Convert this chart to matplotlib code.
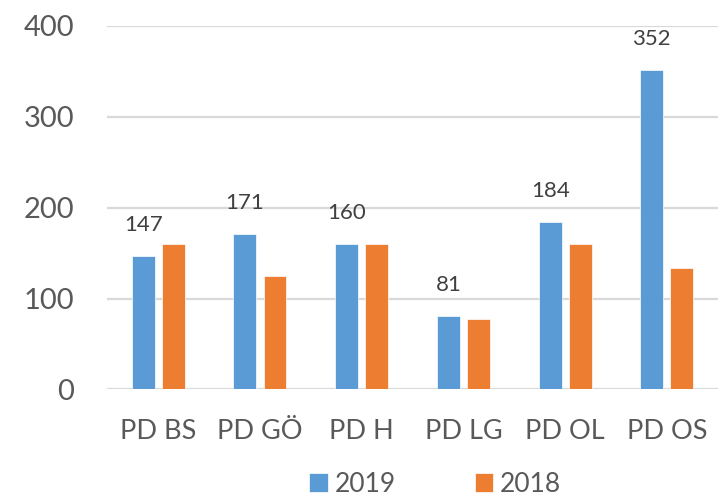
import matplotlib
matplotlib.use("Agg")
import matplotlib.pyplot as plt
import numpy as np

categories = ["PD BS", "PD GÖ", "PD H", "PD LG", "PD OL", "PD OS"]
values_2019 = [147, 171, 160, 81, 184, 352]
values_2018 = [160, 125, 160, 77, 160, 134]
yticks = [0, 100, 200, 300, 400]

blue = "#5B9BD5"
orange = "#ED7D31"
grey_text = "#595959"

plt.rcParams["font.family"] = ["Lato", "DejaVu Sans"]

fig = plt.figure(figsize=(7.25, 4.98), dpi=100)
ax = fig.add_axes([0.148, 0.218, 0.842, 0.730])

x = np.arange(len(categories))
w = 0.225
off = 0.148
b19 = ax.bar(x - off, values_2019, w, color=blue, edgecolor="white", linewidth=0.5, label="2019", zorder=3)
b18 = ax.bar(x + off, values_2018, w, color=orange, edgecolor="white", linewidth=0.5, label="2018", zorder=3)

ax.bar_label(b19, labels=[str(v) for v in values_2019], padding=15,
             fontsize=16, color="#404040")

ax.set_xlim(-0.5, len(categories) - 0.5)
ax.set_ylim(0, 400)
ax.set_yticks(yticks)
ax.set_xticks(x)
ax.set_xticklabels(categories)
ax.grid(axis="y", color="#D9D9D9", linewidth=1.6, zorder=0)
ax.tick_params(axis="y", length=0, pad=24, labelsize=21, labelcolor=grey_text)
ax.tick_params(axis="x", length=0, pad=21, labelsize=19.5, labelcolor=grey_text)
for s in ax.spines.values():
    s.set_visible(False)

fig.legend(handles=[b19, b18], loc="center", bbox_to_anchor=(0.6, 0.028),
           ncol=2, frameon=False, fontsize=19, labelcolor=grey_text,
           handlelength=0.7, handleheight=0.7, handletextpad=0.25,
           columnspacing=3.0)

fig.savefig("out.png", dpi=100)
